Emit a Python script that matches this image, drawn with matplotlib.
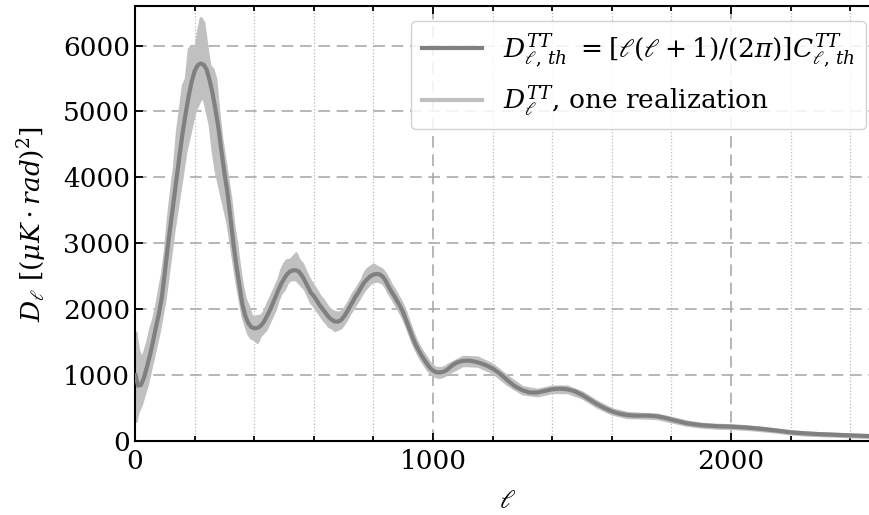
import matplotlib as mpl
mpl.use('Agg')
import matplotlib.pyplot as plt

plt.rcParams['font.family'] = 'DejaVu Serif'
plt.rcParams['mathtext.fontset'] = 'dejavuserif'

# theory spectrum D_l
ell_th = [2, 10, 20, 30, 40, 50, 60, 70, 80, 90, 100, 110, 120, 130, 140, 150, 160, 170, 180, 190,
          200, 210, 220, 230, 240, 250, 260, 270, 280, 290, 300, 310, 320, 330, 340, 350, 360, 370,
          380, 390, 400, 410, 420, 430, 440, 450, 460, 470, 480, 490, 500, 510, 520, 530, 540, 550,
          560, 570, 580, 590, 600, 610, 620, 630, 640, 650, 660, 670, 680, 690, 700, 710, 720, 730,
          740, 750, 760, 770, 780, 790, 800, 810, 820, 830, 840, 850, 860, 870, 880, 890, 900, 910,
          920, 930, 940, 950, 960, 970, 980, 990, 1000, 1010, 1020, 1030, 1040, 1050, 1060, 1070,
          1080, 1090, 1100, 1120, 1140, 1160, 1180, 1200, 1225, 1250, 1275, 1300, 1325, 1350, 1375,
          1400, 1425, 1450, 1475, 1500, 1525, 1550, 1575, 1600, 1625, 1650, 1675, 1700, 1725, 1750,
          1775, 1800, 1850, 1900, 1950, 2000, 2050, 2100, 2150, 2200, 2250, 2300, 2350, 2400, 2450, 2500]
d_th = [1000, 840, 850, 960, 1120, 1300, 1500, 1720, 1930, 2180, 2550, 2950, 3300, 3650, 4000, 4350,
        4680, 4970, 5230, 5450, 5610, 5700, 5727, 5710, 5640, 5480, 5280, 5030, 4750, 4400, 4070, 3780,
        3400, 3000, 2670, 2370, 2080, 1900, 1790, 1730, 1710, 1715, 1740, 1790, 1870, 1960, 2060, 2170,
        2280, 2380, 2460, 2530, 2570, 2590, 2590, 2570, 2510, 2430, 2340, 2250, 2200, 2130, 2060, 2000,
        1940, 1880, 1840, 1815, 1810, 1830, 1880, 1950, 2030, 2110, 2190, 2260, 2340, 2410, 2460, 2500,
        2525, 2535, 2530, 2500, 2440, 2350, 2270, 2200, 2120, 2040, 1950, 1830, 1710, 1590, 1480, 1390,
        1310, 1240, 1170, 1110, 1070, 1045, 1040, 1045, 1060, 1090, 1130, 1165, 1190, 1205, 1215, 1220,
        1205, 1180, 1145, 1100, 1020, 920, 830, 770, 735, 735, 760, 785, 795, 785, 755, 700, 630, 560,
        500, 450, 415, 395, 385, 385, 385, 375, 355, 325, 270, 240, 225, 218, 205, 185, 160, 132, 115,
        103, 95, 85, 77, 70]

# one realization: lower / upper extent of the light band
ell_re = [2, 10, 20, 30, 40, 50, 60, 70, 80, 90, 100, 110, 120, 130, 140, 150, 160, 170, 180, 190,
          200, 210, 220, 230, 240, 250, 260, 270, 280, 290, 300, 310, 320, 330, 340, 350, 360, 370,
          380, 390, 400, 410, 420, 430, 440, 450, 460, 470, 480, 490, 500, 510, 520, 530, 540, 550,
          560, 570, 580, 590, 600, 610, 620, 630, 640, 650, 660, 670, 680, 690, 700, 710, 720, 730,
          740, 750, 760, 770, 780, 790, 800, 810, 820, 830, 840, 850, 860, 870, 880, 890, 900, 910,
          920, 930, 940, 950, 960, 970, 980, 990, 1000, 1010, 1020, 1030, 1040, 1050, 1100, 1150,
          1200, 1250, 1300, 1350, 1400, 1450, 1500, 1550, 1600, 1650, 1700, 1750, 1800, 1850, 1900,
          1950, 2000, 2050, 2100, 2150, 2200, 2250, 2300, 2350, 2400, 2450, 2500]
d_lo = [300, 450, 550, 700, 850, 1050, 1250, 1450, 1650, 1900, 2150, 2500, 2850, 3200, 3500, 3800,
        4100, 4400, 4600, 4800, 5000, 5100, 5200, 5200, 5000, 4800, 4400, 4100, 3900, 3700, 3500, 3300,
        3000, 2700, 2400, 2150, 1900, 1750, 1620, 1560, 1550, 1500, 1600, 1650, 1700, 1800, 1900, 2000,
        2150, 2250, 2300, 2400, 2450, 2450, 2450, 2400, 2350, 2300, 2200, 2100, 2050, 1980, 1920, 1850,
        1800, 1740, 1720, 1680, 1700, 1720, 1780, 1850, 1940, 2000, 2080, 2150, 2230, 2300, 2350, 2400,
        2420, 2430, 2420, 2400, 2340, 2250, 2180, 2100, 2020, 1940, 1850, 1740, 1620, 1500, 1400, 1310,
        1230, 1160, 1090, 1040, 1000, 980, 970, 980, 1000, 1030, 1150, 1140, 1040, 860, 720, 690, 740,
        740, 660, 520, 415, 360, 355, 345, 295, 245, 215, 200, 195, 182, 163, 140, 112, 96, 85, 78, 68,
        60, 54]
d_hi = [1650, 1400, 1250, 1350, 1500, 1700, 1850, 2050, 2300, 2550, 2900, 3400, 3800, 4150, 4700, 5050,
        5400, 5500, 5950, 6000, 5900, 6200, 6420, 6350, 6000, 5700, 5650, 5500, 5000, 4600, 4300, 4000,
        3700, 3300, 3000, 2650, 2350, 2150, 2050, 1900, 1880, 1900, 1900, 1950, 2050, 2150, 2250, 2350,
        2450, 2600, 2700, 2750, 2750, 2800, 2850, 2750, 2700, 2600, 2500, 2420, 2350, 2280, 2200, 2150,
        2080, 2020, 1980, 1960, 1950, 1960, 2000, 2070, 2150, 2240, 2300, 2380, 2450, 2560, 2620, 2650,
        2680, 2650, 2630, 2600, 2540, 2460, 2370, 2300, 2220, 2140, 2050, 1930, 1800, 1680, 1560, 1470,
        1390, 1320, 1250, 1180, 1140, 1110, 1110, 1110, 1130, 1160, 1280, 1270, 1160, 980, 820, 780, 830,
        830, 740, 600, 485, 430, 415, 405, 355, 300, 265, 250, 242, 228, 207, 180, 152, 134, 121, 112, 102,
        94, 86]

c_th = '#808080'
c_re = '#c0c0c0'

fig = plt.figure(figsize=(8.7, 5.15), dpi=100)
ax = fig.add_axes([135/870, 74/515, 745/870, 435/515])

ax.fill_between(ell_re, d_lo, d_hi, color=c_re, lw=2, edgecolor=c_re, zorder=2)
ax.plot(ell_th, d_th, color=c_th, lw=3, zorder=3,
        label=r'$D^{TT}_{\ell,\,th}$ $=[\ell(\ell+1)/(2\pi)]C^{TT}_{\ell,\,th}$')
ax.plot([], [], color=c_re, lw=3, label=r'$D^{TT}_{\ell}$, one realization')

ax.set_xlim(0, 2500)
ax.set_ylim(0, 6600)
ax.set_xticks([0, 1000, 2000])
ax.set_xticks(range(0, 2600, 200), minor=True)
ax.set_yticks(range(0, 7000, 1000))
ax.tick_params(which='both', direction='in', top=True, right=True, labelsize=19, width=1.3)
ax.tick_params(which='major', length=6)
ax.tick_params(which='minor', length=3.5)
ax.tick_params(axis='x', pad=6)
for s in ax.spines.values():
    s.set_linewidth(1.5)

ax.grid(True, which='major', ls='--', color='#aaaaaa', lw=1.2, dashes=(7, 4))
ax.grid(True, which='minor', axis='x', ls=':', color='#bbbbbb', lw=0.9)
ax.set_axisbelow(True)

ax.set_xlabel(r'$\ell$', fontsize=19, labelpad=10)
ax.set_ylabel(r'$D_\ell$ [$(\mu K \cdot rad)^2$]', fontsize=19, labelpad=10)

ax.legend(loc='upper right', bbox_to_anchor=(866/870, 1 - 21/515), bbox_transform=fig.transFigure,
          borderaxespad=0, fontsize=19, handlelength=2.3, framealpha=0.85, edgecolor='#cccccc')

fig.savefig('out.png', dpi=100)
